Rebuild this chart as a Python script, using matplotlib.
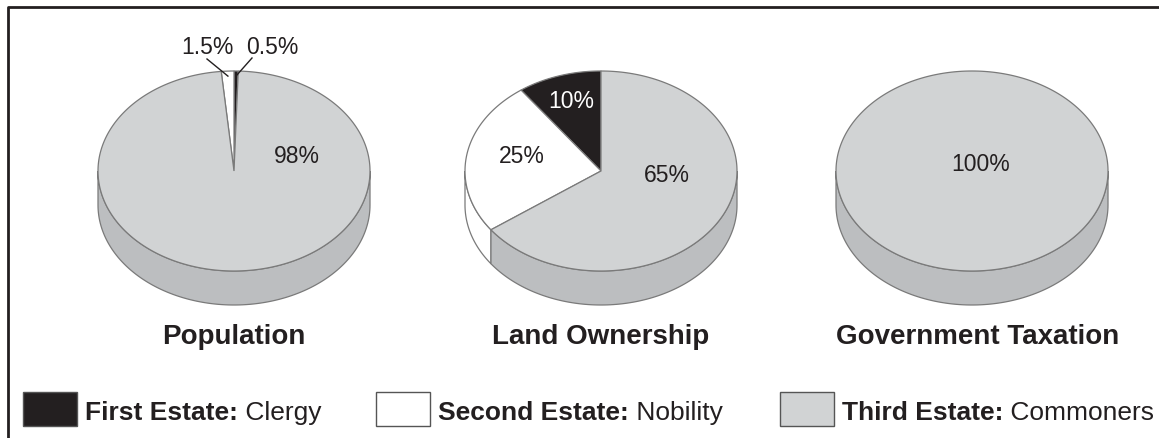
import numpy as np
import matplotlib
matplotlib.use('Agg')
import matplotlib.pyplot as plt
from matplotlib.patches import Polygon, Rectangle

plt.rcParams['font.family'] = ['Liberation Sans', 'DejaVu Sans']

# data
estates = ['First Estate', 'Second Estate', 'Third Estate']
estate_desc = ['Clergy', 'Nobility', 'Commoners']
chart_titles = ['Population', 'Land Ownership', 'Government Taxation']
population = [0.5, 1.5, 98]
land = [10, 25, 65]
taxation = [0, 0, 100]
pct_labels = [['0.5%', '1.5%', '98%'], ['10%', '25%', '65%'], ['', '', '100%']]

INK = '#231f20'
top_colors = [INK, '#ffffff', '#d1d3d4']
side_colors = [INK, '#ffffff', '#bcbec0']
EDGE = '#7a7a7a'

W, H = 1159, 439
fig = plt.figure(figsize=(W / 100, H / 100), dpi=100)
ax = fig.add_axes([0, 0, 1, 1])
ax.set_xlim(0, W)
ax.set_ylim(H, 0)
ax.axis('off')

# frame (only top and left edges visible in the original)
ax.plot([8, 8, W + 5], [H + 5, 8, 8], color=INK, lw=2, solid_capstyle='butt')

RX, RY, DEPTH = 136, 100, 34


def pt(cx, cy, ang, r=1.0, dy=0):
    a = np.radians(ang)
    return cx + r * RX * np.cos(a), cy - r * RY * np.sin(a) + dy


def draw_pie(cx, cy, values, start):
    total = sum(values)
    bounds = start + np.concatenate([[0], np.cumsum(values)]) / total * 360
    # side first (only the front half is visible)
    for i in range(len(values)):
        a0, a1 = bounds[i], bounds[i + 1]
        if a1 <= a0:
            continue
        for k in range(-1, 3):
            lo = max(a0, 180 + 360 * k)
            hi = min(a1, 360 + 360 * k)
            if hi <= lo:
                continue
            t = np.linspace(lo, hi, 120)
            xs, ys = pt(cx, cy, t)
            xb, yb = pt(cx, cy, t[::-1], dy=DEPTH)
            poly = np.column_stack([np.concatenate([xs, xb]), np.concatenate([ys, yb])])
            ax.add_patch(Polygon(poly, closed=True, fc=side_colors[i], ec=EDGE, lw=0.9))
    # top wedges
    for i in range(len(values)):
        a0, a1 = bounds[i], bounds[i + 1]
        if a1 <= a0:
            continue
        t = np.linspace(a0, a1, max(4, int((a1 - a0) * 2)))
        xs, ys = pt(cx, cy, t)
        if a1 - a0 >= 359.99:
            poly = np.column_stack([xs, ys])
        else:
            poly = np.column_stack([np.concatenate([[cx], xs]), np.concatenate([[cy], ys])])
        ax.add_patch(Polygon(poly, closed=True, fc=top_colors[i], ec=EDGE, lw=0.9))
    return bounds


centers = [(234, 172), (601, 172), (972, 172)]
series = [population, land, taxation]
starts = [90 - population[0] / 100 * 360, 90, 90]

# label positions relative to pie centre
label_pos = [
    [(38, -125), (-27, -125), (63, -15)],
    [(-30, -70), (-79, -15), (66, 4)],
    [None, None, (9, -7)],
]
title_dx = [0, 0, 6]

for j, (c, vals) in enumerate(zip(centers, series)):
    b = draw_pie(c[0], c[1], vals, starts[j])
    for i, lab in enumerate(pct_labels[j]):
        if not lab:
            continue
        dx, dy = label_pos[j][i]
        col = '#ffffff' if top_colors[i] == INK and j == 1 else INK
        ax.text(c[0] + dx, c[1] + dy, lab, ha='center', va='center',
                fontsize=16.5, color=col)
    ax.text(c[0] + title_dx[j], 337, chart_titles[j], ha='center', va='center',
            fontsize=20, fontweight='bold', color=INK)

# leader lines for the thin population slices
cx, cy = centers[0]
bp = starts[0] + np.concatenate([[0], np.cumsum(population)]) / 100 * 360
for i, (tx, ty) in [(0, (252, 59)), (1, (207, 60))]:
    mid = (bp[i] + bp[i + 1]) / 2
    ex, ey = pt(cx, cy, mid, r=0.95)
    ax.plot([tx, ex], [ty, ey], color=INK, lw=1)

# legend
leg_x = [23, 376, 780]
for i in range(3):
    x0 = leg_x[i]
    ax.add_patch(Rectangle((x0, 393), 54, 34, fc=top_colors[i], ec='#555555', lw=1))
    bt = ax.text(x0 + 62, 413, estates[i] + ':', ha='left', va='center',
                 fontsize=19, fontweight='bold', color=INK)
    ax.annotate(' ' + estate_desc[i], xy=(1, 0.5), xycoords=bt, ha='left', va='center',
                fontsize=19, color=INK)

fig.savefig('out.png', dpi=100)
